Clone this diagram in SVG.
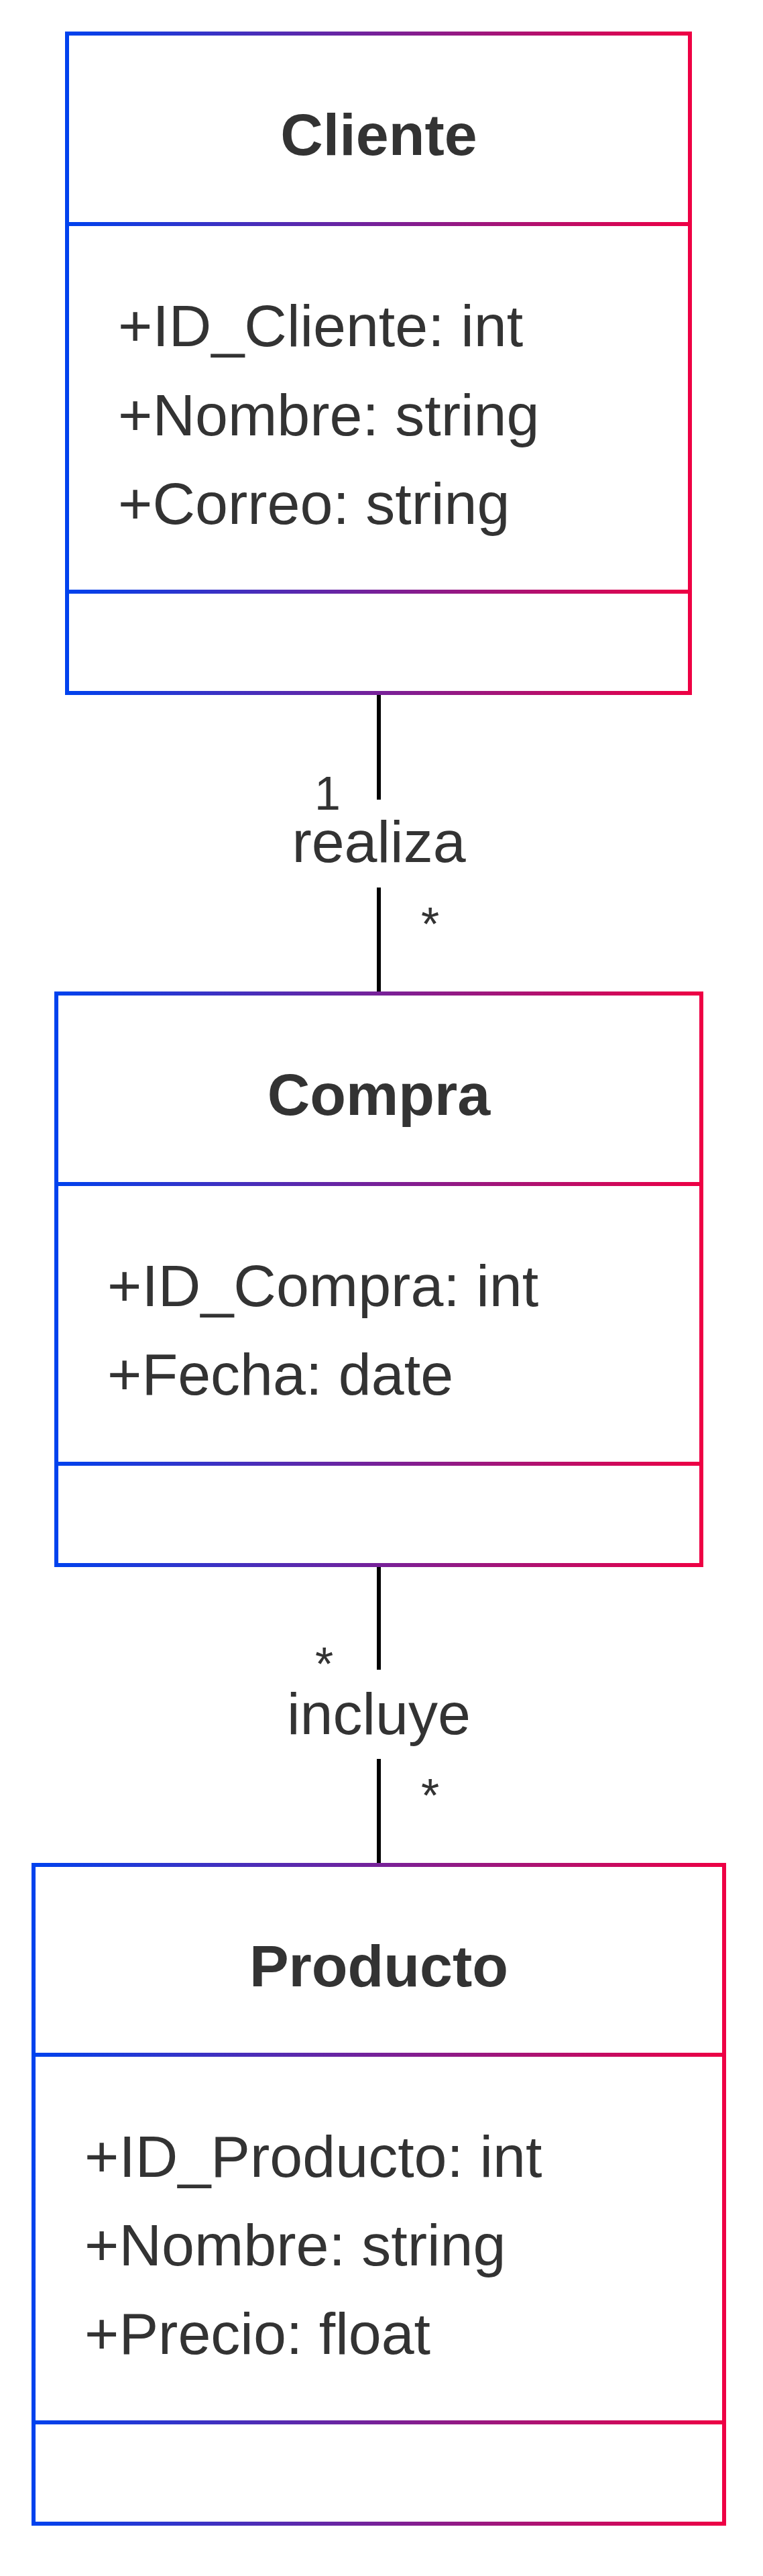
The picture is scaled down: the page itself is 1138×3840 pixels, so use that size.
<svg xmlns="http://www.w3.org/2000/svg" width="1138" height="3840" viewBox="0 0 1138 3840">
<style>
.box{fill:#ffffff;stroke-width:6}
.div{stroke-width:6;fill:none}
.title{font-family:"Liberation Sans",Arial,Helvetica,sans-serif;font-size:88px;font-weight:bold;fill:#333333;text-anchor:middle}
.attr{font-family:"Liberation Sans",Arial,Helvetica,sans-serif;font-size:88px;fill:#333333}
.elabel{font-family:"Liberation Sans",Arial,Helvetica,sans-serif;font-size:88px;fill:#333333;text-anchor:middle}
.card{font-family:"Liberation Sans",Arial,Helvetica,sans-serif;font-size:70px;fill:#333333}
.edge{stroke:#000000;stroke-width:6;fill:none}
</style>
<defs>
<linearGradient id="gC" gradientUnits="userSpaceOnUse" x1="100" y1="0" x2="1029" y2="0"><stop offset="0" stop-color="#0042ee"/><stop offset="1" stop-color="#ee0044"/></linearGradient>
<linearGradient id="gCo" gradientUnits="userSpaceOnUse" x1="84" y1="0" x2="1046" y2="0"><stop offset="0" stop-color="#0042ee"/><stop offset="1" stop-color="#ee0044"/></linearGradient>
<linearGradient id="gP" gradientUnits="userSpaceOnUse" x1="50" y1="0" x2="1080" y2="0"><stop offset="0" stop-color="#0042ee"/><stop offset="1" stop-color="#ee0044"/></linearGradient>
</defs>
<rect width="1138" height="3840" fill="#ffffff"/>
<g id="connectors">
<g id="edge-realiza">
<line class="edge" x1="565" y1="1033" x2="565" y2="1192"/>
<line class="edge" x1="565" y1="1323" x2="565" y2="1481"/>
<text class="elabel" x="565" y="1285">realiza</text>
<text class="card" x="469" y="1207">1</text>
<text class="card" x="628" y="1402">*</text>
</g>
<g id="edge-incluye">
<line class="edge" x1="565" y1="2333" x2="565" y2="2489"/>
<line class="edge" x1="565" y1="2622" x2="565" y2="2780"/>
<text class="elabel" x="565" y="2585">incluye</text>
<text class="card" x="470" y="2505">*</text>
<text class="card" x="628" y="2701">*</text>
</g>
</g>
<g id="Cliente">
<rect class="box" x="100" y="50" width="929" height="983" stroke="url(#gC)"/>
<line class="div" x1="100" y1="334" x2="1029" y2="334" stroke="url(#gC)"/>
<line class="div" x1="100" y1="882" x2="1029" y2="882" stroke="url(#gC)"/>
<text class="title" x="565" y="231">Cliente</text>
<text class="attr" x="176" y="516">+ID_Cliente: int</text>
<text class="attr" x="176" y="649">+Nombre: string</text>
<text class="attr" x="176" y="781">+Correo: string</text>
</g>
<g id="Compra">
<rect class="box" x="84" y="1481" width="962" height="852" stroke="url(#gCo)"/>
<line class="div" x1="84" y1="1765" x2="1046" y2="1765" stroke="url(#gCo)"/>
<line class="div" x1="84" y1="2182" x2="1046" y2="2182" stroke="url(#gCo)"/>
<text class="title" x="565" y="1662">Compra</text>
<text class="attr" x="160" y="1947">+ID_Compra: int</text>
<text class="attr" x="160" y="2079">+Fecha: date</text>
</g>
<g id="Producto">
<rect class="box" x="50" y="2780" width="1030" height="982" stroke="url(#gP)"/>
<line class="div" x1="50" y1="3063" x2="1080" y2="3063" stroke="url(#gP)"/>
<line class="div" x1="50" y1="3611" x2="1080" y2="3611" stroke="url(#gP)"/>
<text class="title" x="565" y="2961">Producto</text>
<text class="attr" x="126" y="3245">+ID_Producto: int</text>
<text class="attr" x="126" y="3377">+Nombre: string</text>
<text class="attr" x="126" y="3509">+Precio: float</text>
</g>
</svg>
